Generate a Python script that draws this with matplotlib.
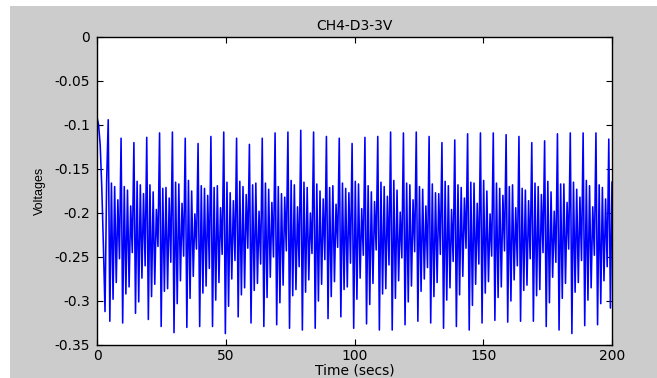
import numpy as np
import matplotlib
matplotlib.use('Agg')
import matplotlib.pyplot as plt
from matplotlib.patches import Rectangle

plt.rcParams['font.family'] = ['DejaVu Sans']
plt.rcParams['axes.unicode_minus'] = False

# sample step of the recorded trace (secs)
dt = 200.0 / 321

# start of the trace, before the first full cycle
start_vals = [-0.091, -0.100, -0.123, -0.172, -0.238, -0.312, -0.165]

# per cycle readings (one value per ~5 s cycle)
peak = [-0.094, -0.115, -0.120, -0.114, -0.109, -0.108, -0.115, -0.121, -0.113, -0.108,
        -0.115, -0.122, -0.115, -0.109, -0.108, -0.106, -0.108, -0.113, -0.115, -0.121,
        -0.114, -0.113, -0.108, -0.109, -0.108, -0.113, -0.120, -0.117, -0.110, -0.109,
        -0.109, -0.111, -0.113, -0.120, -0.118, -0.110, -0.109, -0.109, -0.109, -0.116]
deep = [-0.323, -0.325, -0.314, -0.321, -0.329, -0.336, -0.330, -0.329, -0.329, -0.337,
        -0.318, -0.325, -0.329, -0.327, -0.331, -0.333, -0.331, -0.320, -0.318, -0.331,
        -0.326, -0.333, -0.333, -0.327, -0.323, -0.325, -0.331, -0.329, -0.333, -0.325,
        -0.322, -0.324, -0.323, -0.323, -0.329, -0.333, -0.337, -0.328, -0.327, -0.308]
upper1 = [-0.166, -0.170, -0.164, -0.168, -0.172, -0.165, -0.163, -0.169, -0.171, -0.165,
          -0.164, -0.168, -0.166, -0.170, -0.163, -0.165, -0.167, -0.171, -0.166, -0.164,
          -0.169, -0.165, -0.163, -0.166, -0.170, -0.167, -0.164, -0.168, -0.165, -0.163,
          -0.166, -0.170, -0.172, -0.166, -0.164, -0.167, -0.165, -0.163, -0.168, -0.165]
lower1 = [-0.298, -0.292, -0.301, -0.295, -0.289, -0.303, -0.297, -0.291, -0.299, -0.306,
          -0.293, -0.288, -0.296, -0.302, -0.294, -0.290, -0.300, -0.295, -0.287, -0.298,
          -0.304, -0.292, -0.297, -0.301, -0.289, -0.295, -0.299, -0.293, -0.305, -0.291,
          -0.296, -0.300, -0.288, -0.294, -0.302, -0.297, -0.290, -0.299, -0.303, -0.295]
upper2 = [-0.170, -0.174, -0.168, -0.176, -0.171, -0.167, -0.175, -0.172, -0.169, -0.177,
          -0.170, -0.166, -0.173, -0.178, -0.168, -0.171, -0.175, -0.169, -0.172, -0.167,
          -0.176, -0.170, -0.174, -0.168, -0.173, -0.177, -0.169, -0.171, -0.166, -0.175,
          -0.172, -0.168, -0.174, -0.170, -0.176, -0.167, -0.173, -0.169, -0.171, -0.175]
lower2 = [-0.279, -0.284, -0.274, -0.281, -0.286, -0.277, -0.272, -0.283, -0.279, -0.275,
          -0.285, -0.280, -0.273, -0.282, -0.287, -0.276, -0.281, -0.278, -0.284, -0.274,
          -0.280, -0.286, -0.277, -0.283, -0.275, -0.279, -0.285, -0.272, -0.281, -0.278,
          -0.284, -0.276, -0.282, -0.287, -0.273, -0.280, -0.279, -0.285, -0.277, -0.283]
upper3 = [-0.185, -0.192, -0.178, -0.196, -0.183, -0.189, -0.201, -0.180, -0.194, -0.186,
          -0.179, -0.198, -0.188, -0.182, -0.193, -0.200, -0.184, -0.190, -0.177, -0.195,
          -0.187, -0.181, -0.199, -0.185, -0.192, -0.178, -0.196, -0.183, -0.189, -0.201,
          -0.180, -0.194, -0.186, -0.179, -0.198, -0.188, -0.182, -0.193, -0.184, -0.190]
lower3 = [-0.252, -0.245, -0.260, -0.238, -0.256, -0.249, -0.241, -0.263, -0.247, -0.254,
          -0.240, -0.258, -0.250, -0.243, -0.261, -0.246, -0.253, -0.239, -0.257, -0.248,
          -0.242, -0.259, -0.251, -0.244, -0.262, -0.247, -0.255, -0.240, -0.258, -0.249,
          -0.243, -0.260, -0.252, -0.245, -0.256, -0.241, -0.254, -0.248, -0.261, -0.246]

yticks = [0, -0.05, -0.1, -0.15, -0.2, -0.25, -0.3, -0.35]
ytick_labels = ['0', '-0.05', '-0.1', '-0.15', '-0.2', '-0.25', '-0.3', '-0.35']
xticks = [0, 50, 100, 150, 200]


def build_trace():
    vals = list(start_vals)
    for i in range(len(peak)):
        vals += [peak[i], deep[i], upper1[i], lower1[i],
                 upper2[i], lower2[i], upper3[i], lower3[i]]
    n = int(round(200.0 / dt)) + 1
    vals = np.array(vals[:n])
    t = np.arange(len(vals)) * dt
    return t, vals


t, v = build_trace()

fig = plt.figure(figsize=(6.57, 3.78), dpi=100, facecolor='white')
fig.patches.append(Rectangle((10 / 657, 0), 1, 1 - 6 / 378, transform=fig.transFigure,
                             facecolor='#cccccc', edgecolor='none', zorder=-10))

ax = fig.add_axes([97 / 657, 33 / 378, 515 / 657, 308 / 378])
ax.set_facecolor('white')
ax.plot(t, v, color='#0000ff', lw=1.15)

ax.set_xlim(0, 200)
ax.set_ylim(-0.35, 0)
ax.set_xticks(xticks)
ax.set_xticklabels([str(x) for x in xticks])
ax.set_yticks(yticks)
ax.set_yticklabels(ytick_labels)
ax.tick_params(direction='in', top=True, right=True, length=4, width=0.8,
               labelsize=10, colors='black')
ax.tick_params(axis='y', pad=5)
ax.tick_params(axis='x', pad=3)
for s in ax.spines.values():
    s.set_linewidth(1.0)

ax.set_title('CH4-D3-3V', fontsize=10, pad=5)
ax.set_xlabel('Time (secs)', fontsize=10, labelpad=0)
ax.set_ylabel('Voltages', fontsize=9, family='Liberation Sans', labelpad=6)

fig.savefig('out.png', dpi=100, facecolor=fig.get_facecolor())
